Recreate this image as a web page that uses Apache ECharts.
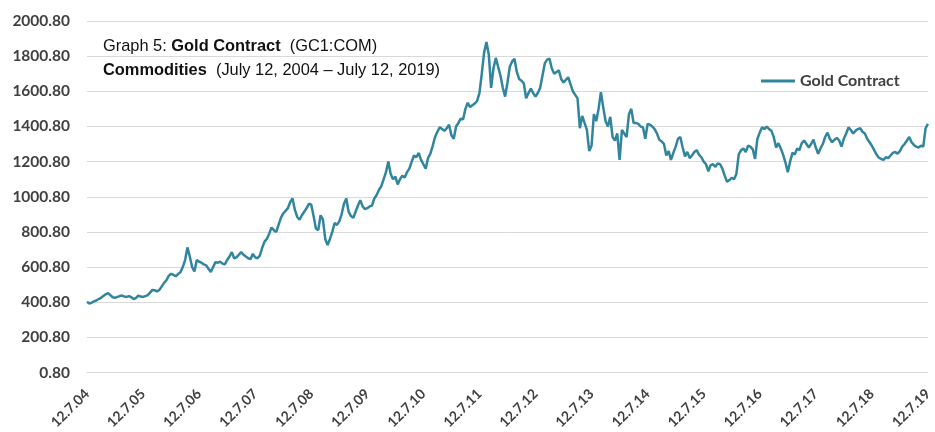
<!DOCTYPE html>
<html>
<head>
<meta charset="utf-8">
<script src="https://cdn.jsdelivr.net/npm/echarts@6/dist/echarts.min.js"></script>
<style>
    html, body { margin: 0; padding: 0; background: #fff; }
    #chart { width: 935px; height: 432px; }
</style>
</head>
<body>
<div id="chart"></div>
<script>
// year labels, one every 24 half-month points
var tickLabels = ['12.7.04', '12.7.05', '12.7.06', '12.7.07', '12.7.08', '12.7.09', '12.7.10', '12.7.11',
    '12.7.12', '12.7.13', '12.7.14', '12.7.15', '12.7.16', '12.7.17', '12.7.18', '12.7.19'];

// gold contract, about two readings a month
var gold0405 = [402, 392, 398, 405, 410, 418, 425, 435, 445, 452, 440, 428, 425, 430, 435, 438, 432, 430, 435, 428, 418, 425, 438, 432];
var gold0506 = [430, 435, 440, 455, 470, 468, 462, 470, 490, 510, 525, 550, 562, 555, 548, 560, 570, 600, 640, 712, 660, 600, 575, 640];
var gold0607 = [630, 625, 615, 610, 590, 572, 600, 628, 625, 630, 620, 615, 640, 660, 685, 650, 655, 670, 685, 670, 660, 650, 645, 675];
var gold0708 = [655, 650, 665, 710, 745, 760, 790, 825, 810, 800, 840, 880, 905, 920, 935, 970, 990, 925, 885, 870, 895, 915, 935, 960];
var gold0809 = [955, 890, 820, 810, 895, 870, 760, 725, 760, 800, 850, 840, 860, 900, 960, 990, 915, 890, 880, 915, 950, 980, 945, 930];
var gold0910 = [935, 945, 950, 990, 1010, 1040, 1060, 1100, 1140, 1200, 1130, 1100, 1115, 1070, 1100, 1120, 1110, 1140, 1160, 1200, 1235, 1225, 1250, 1210];
var gold1011 = [1185, 1160, 1220, 1245, 1290, 1340, 1370, 1395, 1385, 1375, 1390, 1410, 1350, 1330, 1400, 1420, 1445, 1440, 1500, 1535, 1510, 1520, 1530, 1545];
var gold1112 = [1590, 1700, 1820, 1880, 1810, 1620, 1730, 1790, 1740, 1690, 1620, 1570, 1650, 1740, 1770, 1785, 1710, 1670, 1660, 1645, 1560, 1590, 1615, 1590];
var gold1213 = [1570, 1590, 1620, 1690, 1760, 1780, 1785, 1730, 1700, 1710, 1720, 1670, 1650, 1665, 1680, 1640, 1600, 1580, 1560, 1390, 1460, 1420, 1380, 1260];
var gold1314 = [1290, 1470, 1430, 1500, 1595, 1510, 1430, 1400, 1455, 1340, 1320, 1360, 1210, 1380, 1360, 1340, 1470, 1500, 1420, 1420, 1415, 1400, 1395, 1330];
var gold1415 = [1415, 1410, 1400, 1385, 1360, 1325, 1315, 1300, 1235, 1260, 1210, 1250, 1285, 1330, 1340, 1280, 1230, 1255, 1220, 1235, 1255, 1265, 1240, 1225];
var gold1516 = [1200, 1185, 1145, 1180, 1185, 1170, 1190, 1185, 1160, 1120, 1085, 1095, 1108, 1100, 1130, 1240, 1265, 1275, 1255, 1290, 1285, 1270, 1215, 1330];
var gold1617 = [1365, 1395, 1385, 1400, 1385, 1375, 1340, 1280, 1305, 1275, 1240, 1195, 1140, 1200, 1250, 1240, 1275, 1265, 1305, 1320, 1300, 1280, 1300, 1325];
var gold1718 = [1280, 1245, 1275, 1300, 1340, 1365, 1330, 1310, 1325, 1335, 1320, 1285, 1330, 1360, 1395, 1380, 1360, 1375, 1385, 1390, 1370, 1360, 1330, 1310];
var gold1819 = [1290, 1265, 1240, 1222, 1215, 1210, 1225, 1220, 1235, 1250, 1255, 1245, 1260, 1285, 1300, 1320, 1340, 1310, 1295, 1285, 1280, 1290, 1285, 1390, 1415];

var goldValues = [].concat(gold0405, gold0506, gold0607, gold0708, gold0809, gold0910, gold1011, gold1112,
    gold1213, gold1314, gold1415, gold1516, gold1617, gold1718, gold1819);

var categories = [];
for (var i = 0; i < goldValues.length; i++) {
    categories.push(i % 24 === 0 ? tickLabels[i / 24] : 'p' + i);
}

var chart = echarts.init(document.getElementById('chart'));
var option = {
    animation: false,
    backgroundColor: '#fff',
    title: {
        left: 98,
        top: 29,
        text: '{n|Graph 5: }{b|Gold Contract}{n|  (GC1:COM)}\n{b|Commodities}{n|  (July 12, 2004 \u2013 July 12, 2019)}',
        textStyle: {
            fontWeight: 'normal',
            lineHeight: 24,
            rich: {
                n: { fontFamily: 'Liberation Sans', fontSize: 16.4, fontWeight: 'normal', color: '#111', lineHeight: 24 },
                b: { fontFamily: 'Liberation Sans', fontSize: 16.4, fontWeight: 'bold', color: '#111', lineHeight: 24 }
            }
        }
    },
    legend: {
        left: 756,
        top: 68,
        icon: 'rect',
        itemWidth: 34,
        itemHeight: 3,
        itemGap: 6,
        textStyle: {
            fontFamily: 'Lato',
            fontSize: 16,
            fontWeight: 'bold',
            color: '#404040'
        },
        data: ['Gold Contract']
    },
    grid: {
        left: 87,
        right: 2,
        top: 21,
        bottom: 59,
        containLabel: false
    },
    xAxis: {
        type: 'category',
        data: categories,
        boundaryGap: false,
        axisLine: { lineStyle: { color: '#d9d9d9' } },
        axisTick: { show: false },
        axisLabel: {
            interval: 23,
            rotate: 45,
            margin: 19,
            fontFamily: 'Lato',
            fontSize: 14,
            fontWeight: 'bold',
            color: '#404040'
        },
        splitLine: { show: false }
    },
    yAxis: {
        type: 'value',
        min: 0,
        max: 2000,
        interval: 200,
        axisLine: { show: false },
        axisTick: { show: false },
        axisLabel: {
            margin: 17,
            fontFamily: 'Lato',
            fontSize: 15.5,
            fontWeight: 'bold',
            color: '#404040',
            formatter: function(v) {
                return (v + 0.8).toFixed(2);
            }
        },
        splitLine: { lineStyle: { color: '#d9d9d9', width: 1 } }
    },
    series: [{
        name: 'Gold Contract',
        type: 'line',
        data: goldValues,
        symbol: 'none',
        lineStyle: { color: '#31859c', width: 2.5 },
        itemStyle: { color: '#31859c' }
    }]
};
chart.setOption(option);
</script>
</body>
</html>
